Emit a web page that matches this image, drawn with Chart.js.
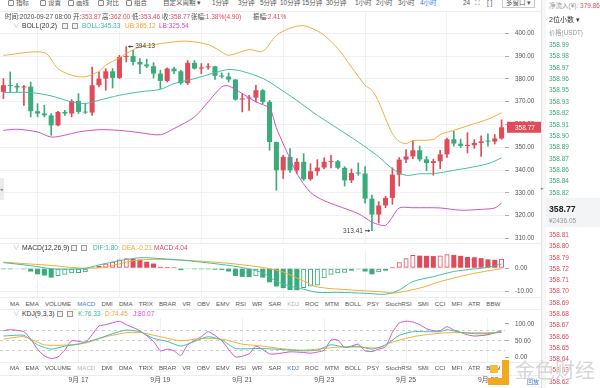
<!DOCTYPE html>
<html>
<head>
<meta charset="utf-8">
<script src="https://cdn.jsdelivr.net/npm/chart.js@4.4.1/dist/chart.umd.min.js"></script>
<style>
  body { margin: 0; width: 600px; height: 388px; overflow: hidden; position: relative; background: #fff;
         font-family: "Liberation Sans", "Noto Sans CJK SC", sans-serif; color: #4a4a4a; }
  canvas { position: absolute; left: 0; }
  .t { position: absolute; white-space: nowrap; font-size: 6.5px; line-height: 8px; }
  .hl { position: absolute; left: 0; width: 541px; height: 1px; background: #ededed; }
  .ico { display: inline-block; width: 4px; height: 4px; border: 1px solid #888; border-radius: 1px; vertical-align: -1px; margin-right: 2px; }
  .box { position: absolute; width: 4px; height: 4px; border: 1px solid #9a9a9a; background: #f2f2f2; }
  .red { color: #e04b5a; } .teal { color: #36b99b; } .org { color: #f0a630; } .mag { color: #cf4ccb; }
  .blue { color: #3b7ddd; } .gray { color: #b0b0b0; }
  .tabs { position: absolute; left: 10px; display: flex; gap: 6.1px; font-size: 6.2px; line-height: 8px; color: #555; }
</style>
</head>
<body>

<!-- toolbar -->
<div class="t" style="left:0;top:-1px;width:541px;font-size:6.6px;color:#555">
  <span class="t" style="left:8px"><i class="ico"></i>指标</span>
  <span class="t" style="left:40px"><i class="ico"></i>设置</span>
  <span class="t" style="left:68px"><i class="ico"></i>画线</span>
  <span class="t" style="left:98px"><i class="ico"></i>对比</span>
  <span class="t" style="left:126px"><i class="ico"></i>组合</span>
  <span class="t" style="left:163px">自定义周期 ▾</span>
  <span class="t" style="left:212px">1分钟</span>
  <span class="t" style="left:238px">3分钟</span>
  <span class="t" style="left:260px">5分钟</span>
  <span class="t" style="left:280px">10分钟</span>
  <span class="t" style="left:302px">15分钟</span>
  <span class="t" style="left:326px">30分钟</span>
  <span class="t" style="left:355px">1小时</span>
  <span class="t" style="left:376px">2小时</span>
  <span class="t" style="left:398px">3小时</span>
  <span class="t blue" style="left:420px">4小时</span>
  <span class="t" style="left:463px">24</span>
  <span class="t" style="left:475px">⛶</span>
  <span class="t" style="left:487px">[ ]</span>
  <span class="t" style="left:502px;top:-1px;border:1px solid #ccc;padding:0 3px;height:8px">多窗口 ▾</span>
</div>
<div class="hl" style="top:11px"></div>

<canvas id="main" width="541" height="232" style="top:12px"></canvas>
<canvas id="macd" width="541" height="47" style="top:250px"></canvas>
<canvas id="kdj" width="541" height="80" style="top:318px"></canvas>

<!-- info line -->
<div class="t" style="left:5px;top:12.5px">时间:2020-09-27 08:00</div>
<div class="t" style="left:73px;top:12.5px">开:<span class="red">353.87</span></div>
<div class="t" style="left:102px;top:12.5px">高:<span class="red">362.00</span></div>
<div class="t" style="left:132px;top:12.5px">低:<span class="red">353.46</span></div>
<div class="t" style="left:162px;top:12.5px">收:<span class="red">358.77</span></div>
<div class="t" style="left:191px;top:12.5px">张幅:<span class="red">1.38%(4.90)</span></div>
<div class="t" style="left:253px;top:12.5px">振幅:<span class="red">2.41%</span></div>

<!-- BOLL legend -->
<div class="t gray" style="left:13px;top:22px">∨</div>
<div class="t" style="left:22px;top:22px;font-size:6.8px;color:#333">BOLL(20,2)</div>
<div class="box" style="left:62px;top:23px"></div>
<div class="box" style="left:72px;top:23px"></div>
<div class="t teal" style="left:82px;top:22px">BOLL:345.33</div>
<div class="t org" style="left:125px;top:22px">UB:365.12</div>
<div class="t mag" style="left:159px;top:22px">LB:325.54</div>

<div class="hl" style="top:243px"></div>

<!-- MACD legend -->
<div class="t gray" style="left:13px;top:244px">∨</div>
<div class="t" style="left:22px;top:244px;font-size:6.8px;color:#333">MACD(12,26,9)</div>
<div class="box" style="left:71px;top:245px"></div>
<div class="box" style="left:81px;top:245px"></div>
<div class="t teal" style="left:93px;top:244px">DIF:1.80</div>
<div class="t org" style="left:122px;top:244px">DEA:-0.21</div>
<div class="t red" style="left:154px;top:244px">MACD:4.04</div>

<div class="hl" style="top:297px"></div>
<div class="tabs" id="tabs1" style="top:300px"></div>
<div class="hl" style="top:309px"></div>

<!-- KDJ legend -->
<div class="t gray" style="left:13px;top:310px">∨</div>
<div class="t" style="left:22px;top:310px;font-size:6.8px;color:#333">KDJ(9,3,3)</div>
<div class="box" style="left:57px;top:311px"></div>
<div class="box" style="left:67px;top:311px"></div>
<div class="t teal" style="left:78px;top:310px">K:76.33</div>
<div class="t org" style="left:105px;top:310px">D:74.45</div>
<div class="t mag" style="left:133px;top:310px">J:80.07</div>

<div class="hl" style="top:362px"></div>
<div class="tabs" id="tabs2" style="top:364px"></div>
<div class="hl" style="top:375px"></div>

<!-- left handle -->
<div style="position:absolute;left:0;top:178px;width:4px;height:22px;background:#ececec"></div>
<div class="t" style="left:0;top:185px;font-size:5px;color:#777">◂</div>

<!-- right panel -->
<div style="position:absolute;left:541px;top:0;width:1px;height:388px;background:#e2e2e2"></div>
<div style="position:absolute;left:542px;top:0;width:4px;height:388px;background:#f7f7f7"></div>
<div class="t" style="left:541px;top:184px;font-size:5px;color:#888">▸</div>
<div class="t" style="left:549px;top:2px;color:#999">净流入(¥): <span class="red">379.86</span></div>
<div class="t" style="left:549px;top:16px;font-size:7px;color:#333">2位小数 ▾</div>
<div class="t" style="left:549px;top:29px;font-size:6.3px;color:#999">价格(USDT)</div>
<div id="asks"></div>
<div style="position:absolute;left:546px;top:198px;width:54px;height:29px;background:#f3f4f6"></div>
<div class="t" style="left:549px;top:204px;font-size:8.7px;line-height:10px;font-weight:bold;color:#222">358.77</div>
<div class="t" style="left:549px;top:216.5px;color:#999">¥2436.05</div>
<div id="bids"></div>

<!-- watermark -->
<div class="t blue" style="left:527px;top:378px;font-size:6px">回放</div>
<div style="position:absolute;left:490px;top:365px;width:8px;height:8px;background:#f6bd3a;border-radius:1px"></div>
<div style="position:absolute;left:502px;top:360px;width:7px;height:25px;background:#f2a81f"></div>
<div style="position:absolute;left:488px;top:378px;width:21px;height:7px;background:#f2a81f"></div>
<div class="t" style="left:515px;top:359px;font-size:20px;line-height:24px;color:rgba(210,210,210,0.9);text-shadow:0 0 1px #fff">金色财经</div>

<script>
// 4h candles, 2020-09-15 04:00 .. 2020-09-27 08:00
var open_values = [374.3, 377.2, 376.9, 376.2, 376.6, 365.8, 364.8, 364.0, 359.6, 365.5,
  364.8, 370.3, 365.5, 365.2, 377.2, 380.1, 383.3, 380.4, 389.6, 390.0,
  387.4, 386.3, 385.5, 382.3, 379.1, 384.5, 383.3, 378.1, 387.0, 384.5,
  385.0, 385.5, 381.3, 381.0, 379.7, 370.9, 371.4, 371.8, 375.0, 369.9,
  352.3, 339.9, 345.8, 339.9, 343.6, 336.0, 339.5, 341.1, 343.6, 343.9,
  341.0, 335.5, 338.7, 338.5, 327.5, 320.5, 324.5, 327.8, 338.0, 344.6,
  346.0, 348.7, 344.7, 343.1, 343.9, 346.9, 353.5, 351.6, 350.6, 350.9,
  351.9, 352.6, 352.5, 353.87];
var high_values = [380.1, 383.0, 377.9, 377.2, 378.6, 369.1, 368.4, 364.8, 365.8, 366.2,
  370.9, 373.5, 369.1, 385.2, 383.0, 384.5, 384.5, 390.3, 394.13, 392.5,
  388.9, 388.6, 387.1, 383.8, 384.8, 385.1, 383.8, 388.0, 388.0, 386.7,
  386.7, 385.5, 382.6, 382.6, 379.7, 373.5, 372.8, 377.2, 375.3, 370.6,
  352.3, 346.5, 349.4, 345.0, 347.2, 342.8, 344.6, 345.4, 346.5, 344.3,
  341.5, 340.5, 343.1, 341.5, 329.0, 326.2, 328.5, 341.0, 345.5, 349.0,
  353.0, 350.5, 346.0, 344.8, 348.7, 354.0, 357.0, 353.6, 356.4, 353.4,
  355.0, 355.9, 355.6, 362.00];
var low_values = [371.3, 374.3, 374.3, 368.4, 363.3, 363.3, 363.3, 355.3, 359.4, 364.0,
  363.3, 364.8, 364.8, 364.0, 376.5, 375.0, 376.0, 380.1, 387.4, 386.0,
  382.3, 384.8, 380.4, 375.7, 378.6, 382.3, 377.5, 377.5, 384.2, 382.3,
  384.2, 379.8, 380.4, 378.6, 370.6, 365.5, 366.2, 369.9, 369.1, 348.7,
  331.1, 336.3, 339.0, 338.5, 335.5, 335.5, 337.7, 340.5, 341.0, 340.5,
  333.0, 334.5, 337.7, 325.5, 313.41, 316.8, 323.5, 325.0, 333.0, 343.3,
  345.0, 344.0, 339.8, 337.7, 340.6, 345.5, 350.5, 349.8, 347.5, 349.5,
  346.0, 350.5, 351.4, 353.46];
var close_values = open_values.slice(1).concat([358.77]);

var day_ticks = [11, 23, 35, 47, 59, 71];
var day_labels = ['9月 17', '9月 19', '9月 21', '9月 23', '9月 25', '9月 27'];
var price_ticks = [310, 320, 330, 340, 350, 360, 370, 380, 390, 400];
var macd_ticks = [-10, 0];
var kdj_ticks = [0, 20, 50, 80, 100];
var kdj_labelled = [0, 50, 100];

// BOLL(20,2), read at candle indices
var boll_up_at = [0, 6, 8, 10, 12, 14, 15, 17, 18, 20, 22, 25, 27, 30, 32, 33, 36, 38, 40, 42, 44, 46, 47, 49, 51, 53, 54, 55, 56, 57, 58, 59, 60, 63, 64, 66, 68, 71, 73];
var boll_up = [390.3, 391.5, 384.5, 381.6, 380.9, 383.3, 386.0, 389.2, 391.1, 394.0, 395.0, 396.2, 396.5, 395.0, 391.8, 390.3, 392.8, 392.1, 399.0, 402.2, 403.3, 401.0, 399.1, 393.3, 385.2, 377.2, 375.0, 369.9, 362.6, 356.0, 352.6, 351.6, 352.9, 353.4, 355.6, 357.4, 359.4, 362.3, 365.12];
var boll_mid_at = [0, 4, 7, 10, 12, 14, 17, 20, 23, 25, 28, 31, 33, 35, 38, 40, 43, 46, 49, 52, 55, 57, 59, 61, 63, 66, 68, 71, 73];
var boll_mid = [374.0, 374.0, 372.5, 369.9, 369.2, 370.6, 372.8, 374.3, 375.4, 377.9, 380.1, 382.7, 384.1, 383.3, 380.2, 376.6, 370.5, 364.0, 358.2, 352.3, 345.8, 340.6, 337.7, 338.4, 338.4, 339.9, 340.9, 342.8, 345.33];
var boll_low_at = [0, 2, 5, 7, 9, 11, 14, 17, 20, 23, 25, 28, 30, 32, 33, 35, 37, 39, 40, 41, 42, 43, 45, 47, 49, 52, 54, 55, 56, 57, 58, 60, 64, 67, 70, 72, 73];
var boll_low = [357.4, 357.9, 356.7, 354.5, 355.3, 356.7, 357.7, 357.4, 356.4, 355.5, 358.2, 363.3, 369.9, 376.5, 376.9, 373.5, 369.9, 367.0, 358.5, 351.5, 345.0, 338.5, 330.2, 326.6, 324.3, 320.9, 317.2, 316.1, 315.8, 319.4, 323.4, 323.5, 323.4, 322.4, 322.8, 323.4, 325.54];

// MACD(12,26,9)
var macd_hist = [-0.3, -0.3, -0.2, -0.3, -1.4, -2.6, -3.1, -4.0, -3.3, -2.8,
  -2.1, -2.0, -1.7, 0.3, 1.1, 2.0, 2.8, 3.7, 4.3, 4.0,
  3.7, 2.8, 2.0, 0.6, 0.5, 0.4, -0.8, -0.2, -0.3, -0.3,
  -0.3, -0.6, -0.7, -1.4, -3.3, -3.7, -3.8, -3.4, -4.0, -6.0,
  -7.8, -8.5, -9.3, -9.4, -8.5, -7.8, -7.4, -4.3, -2.8, -2.1,
  -1.9, -1.1, -0.5, -1.4, -2.6, -1.7, -1.1, 0.6, 2.6, 4.3,
  5.7, 5.4, 5.3, 5.2, 5.4, 6.0, 5.7, 5.3, 4.8, 4.7,
  4.3, 3.8, 3.6, 4.04];
var macd_dif_at = [0, 4, 7, 9, 12, 14, 17, 20, 22, 26, 29, 32, 35, 38, 40, 42, 44, 46, 49, 53, 56, 58, 60, 63, 66, 69, 71, 73];
var macd_dif = [2.4, 1.1, -0.2, -0.4, 0.0, 1.4, 3.2, 4.5, 4.3, 3.5, 2.6, 1.6, 0.3, -2.0, -5.6, -7.6, -9.0, -10.3, -10.3, -10.7, -11.1, -9.3, -5.7, -3.6, -1.4, -0.3, 0.4, 1.80];
var macd_dea_at = [0, 4, 7, 9, 12, 15, 19, 22, 26, 30, 34, 38, 41, 44, 46, 51, 56, 57, 61, 64, 68, 71, 73];
var macd_dea = [2.6, 1.8, 1.2, 0.6, 0.0, 0.6, 3.2, 3.8, 3.5, 2.8, 1.8, 0.3, -1.6, -5.5, -8.0, -9.3, -10.2, -10.7, -8.5, -5.7, -2.8, -1.1, -0.21];

// KDJ(9,3,3)
var kdj_k_at = [0, 3, 5, 7, 9, 11, 14, 16, 18, 20, 22, 24, 26, 28, 30, 32, 34, 37, 39, 42, 44, 46, 48, 50, 52, 54, 56, 58, 60, 62, 64, 65, 67, 69, 71, 73];
var kdj_k = [64, 66, 38, 25, 34, 40, 57, 71, 82, 77, 57, 48, 34, 48, 62, 52, 27, 27, 26, 22, 20, 22, 38, 31, 34, 25, 38, 66, 77, 77, 77, 83, 75, 71, 71, 76.33];
var kdj_d_at = [0, 3, 6, 9, 12, 15, 18, 20, 23, 26, 29, 32, 35, 38, 41, 44, 46, 49, 52, 55, 57, 60, 62, 65, 68, 71, 73];
var kdj_d = [55, 62, 38, 37, 43, 62, 74, 75, 62, 50, 57, 55, 40, 34, 26, 22, 25, 31, 31, 29, 46, 62, 68, 74, 74, 74, 74.45];
var kdj_j_at = [0, 1, 3, 4, 5, 6, 7, 8, 9, 10, 12, 13, 14, 15, 17, 18, 20, 22, 23, 24, 25, 26, 27, 29, 30, 32, 34, 36, 37, 39, 40, 42, 44, 45, 47, 48, 49, 50, 51, 52, 53, 54, 55, 56, 57, 58, 59, 60, 61, 62, 63, 64, 65, 66, 68, 69, 71, 73];
var kdj_j = [80, 83, 77, 55, 25, 5, -3, 2, 22, 50, 46, 68, 94, 98, 108, 98, 80, 48, 20, 25, 20, 6, 38, 62, 77, 50, 2, 11, 34, 11, 11, 17, 15, 13, 22, 52, 52, 30, 34, 40, 20, 18, 25, 32, 75, 103, 108, 106, 98, 86, 80, 80, 92, 82, 68, 64, 68, 80.07];

// order book on the right
var ask_prices = ['358.99', '358.98', '358.97', '358.96', '358.95', '358.93', '358.92', '358.91', '358.90', '358.89', '358.87', '358.86', '358.84', '358.82'];
var bid_prices = ['358.81', '358.80', '358.79', '358.72', '358.71', '358.70', '358.69', '358.68', '358.67', '358.66', '358.65', '358.64', '358.63', '358.62'];

var indicator_tabs = ['MA', 'EMA', 'VOLUME', 'MACD', 'DMI', 'DMA', 'TRIX', 'BRAR', 'VR', 'OBV', 'EMV', 'RSI', 'WR', 'SAR', 'KDJ',
  'ROC', 'MTM', 'BOLL', 'PSY', 'StochRSI', 'SMI', 'CCI', 'MFI', 'ATR', 'BBW'];

var UP = '#e04b5a', DOWN = '#3aab7a';
var TEAL = '#41c0a3', ORANGE = '#f2ad3b', MAGENTA = '#d050cc';
var GRID = '#f1f1f1';
var FONT = '"Liberation Sans", "Noto Sans CJK SC", sans-serif';

var fill_tabs = function(id, active, muted) {
  var row = document.getElementById(id);
  indicator_tabs.forEach(function(name) {
    var s = document.createElement('span');
    s.textContent = name;
    if (name == active) s.style.color = '#3b7ddd';
    if (name == muted) s.style.color = '#b5b5b5';
    row.appendChild(s);
  });
};
fill_tabs('tabs1', 'MACD', 'KDJ');
fill_tabs('tabs2', 'KDJ', 'MACD');

var fill_book = function(id, prices, top, step, color) {
  var box = document.getElementById(id);
  for (var k = 0; k < prices.length; k++) {
    var d = document.createElement('div');
    d.className = 't';
    d.style.left = '549px';
    d.style.top = (top + k * step - 4) + 'px';
    d.style.color = color;
    d.textContent = prices[k];
    box.appendChild(d);
  }
};
fill_book('asks', ask_prices, 45, 11.36, '#3aa777');
fill_book('bids', bid_prices, 235, 11.28, '#d9485a');

var points = function(at, vals) {
  return at.map(function(x, k) { return {x: x, y: vals[k]}; });
};
var candle_idx = open_values.map(function(v, i) { return i; });

var candle_color = function(c) {
  var i = c.dataIndex;
  return close_values[i] >= open_values[i] ? UP : DOWN;
};

// note: chart.js doubles ticks.padding when it sizes the axis
var x_axis = function(show_labels) {
  return {
    type: 'linear', min: -0.5, max: 73.5, offset: false,
    grid: { color: GRID, drawTicks: false },
    border: { display: false },
    afterBuildTicks: function(s) { s.ticks = day_ticks.map(function(v) { return {value: v}; }); },
    ticks: {
      display: show_labels, padding: 14, color: '#555', maxRotation: 0, autoSkip: false,
      font: { size: 6.8, family: FONT },
      callback: function(v, i) { return day_labels[i]; }
    }
  };
};

var y_axis = function(min, max, tick_values) {
  return {
    position: 'right', min: min, max: max,
    afterBuildTicks: function(s) { s.ticks = tick_values.map(function(v) { return {value: v}; }); },
    afterFit: function(s) { s.width = 36; s.paddingTop = 0; s.paddingBottom = 0; },
    grid: { color: GRID, tickColor: '#aaa', tickLength: 4 },
    border: { display: false },
    ticks: {
      padding: 6, color: '#555', font: { size: 6.3, family: FONT },
      callback: function(v) { return v.toFixed(2); }
    }
  };
};

var line = function(data, color) {
  return { type: 'line', data: data, borderColor: color, borderWidth: 1, pointRadius: 0, tension: 0.3, order: 0 };
};

var base_options = {
  responsive: false, animation: false, events: [],
  layout: { padding: 0 },
  plugins: { legend: { display: false }, tooltip: { enabled: false } }
};

// high / low labels and last price tag
var marker_plugin = {
  id: 'markers',
  afterDraw: function(chart) {
    var ctx = chart.ctx, xs = chart.scales.x, ys = chart.scales.y;
    var hi = high_values.indexOf(Math.max.apply(null, high_values));
    var lo = low_values.indexOf(Math.min.apply(null, low_values));
    ctx.save();
    ctx.font = '6.5px ' + FONT;
    ctx.textBaseline = 'middle';
    ctx.fillStyle = '#444';
    ctx.strokeStyle = '#444';
    ctx.lineWidth = 1;

    var x = xs.getPixelForValue(hi), y = ys.getPixelForValue(high_values[hi]);
    ctx.beginPath(); ctx.moveTo(x + 2, y); ctx.lineTo(x + 7, y); ctx.stroke();
    ctx.beginPath(); ctx.moveTo(x + 2, y); ctx.lineTo(x + 4, y - 1.5); ctx.lineTo(x + 4, y + 1.5); ctx.fill();
    ctx.textAlign = 'left';
    ctx.fillText(high_values[hi].toFixed(2), x + 9, y);

    x = xs.getPixelForValue(lo); y = ys.getPixelForValue(low_values[lo]);
    ctx.beginPath(); ctx.moveTo(x - 7, y); ctx.lineTo(x - 2, y); ctx.stroke();
    ctx.beginPath(); ctx.moveTo(x - 2, y); ctx.lineTo(x - 4, y - 1.5); ctx.lineTo(x - 4, y + 1.5); ctx.fill();
    ctx.textAlign = 'right';
    ctx.fillText(low_values[lo].toFixed(2), x - 9, y);

    var last = close_values[close_values.length - 1];
    var py = ys.getPixelForValue(last);
    var left = chart.chartArea.right + 2;
    ctx.fillStyle = UP;
    ctx.fillRect(left, py - 5.5, chart.width - left, 11);
    ctx.fillStyle = '#fff';
    ctx.textAlign = 'left';
    ctx.fillText(last.toFixed(2), left + 8, py + 0.5);
    ctx.restore();
  }
};

Chart.defaults.font.family = FONT;

new Chart('main', {
  type: 'bar',
  data: {
    datasets: [
      line(points(boll_up_at, boll_up), ORANGE),
      line(points(boll_mid_at, boll_mid), TEAL),
      line(points(boll_low_at, boll_low), MAGENTA),
      {
        data: candle_idx.map(function(i) { return {x: i, y: [open_values[i], close_values[i]]}; }),
        backgroundColor: candle_color, barPercentage: 0.74, categoryPercentage: 1,
        grouped: false, minBarLength: 1, order: 1
      },
      {
        data: candle_idx.map(function(i) { return {x: i, y: [low_values[i], high_values[i]]}; }),
        backgroundColor: candle_color, barThickness: 1, grouped: false, order: 2
      }
    ]
  },
  options: Object.assign({}, base_options, {
    scales: { x: x_axis(false), y: y_axis(307.6, 409.3, price_ticks) }
  }),
  plugins: [marker_plugin]
});

var macd_hollow = function(i) { return i > 0 && macd_hist[i] > macd_hist[i - 1]; };

new Chart('macd', {
  type: 'bar',
  data: {
    datasets: [
      line(points(macd_dif_at, macd_dif), TEAL),
      line(points(macd_dea_at, macd_dea), ORANGE),
      {
        data: candle_idx.map(function(i) { return {x: i, y: macd_hist[i]}; }),
        backgroundColor: function(c) {
          var i = c.dataIndex;
          if (macd_hollow(i)) return 'rgba(255,255,255,0)';
          return macd_hist[i] >= 0 ? UP : DOWN;
        },
        borderColor: function(c) { return macd_hist[c.dataIndex] >= 0 ? UP : DOWN; },
        borderWidth: function(c) { return macd_hollow(c.dataIndex) ? 1 : 0; },
        borderSkipped: false,
        barPercentage: 0.74, categoryPercentage: 1, grouped: false, minBarLength: 1, order: 1
      }
    ]
  },
  options: Object.assign({}, base_options, {
    scales: { x: x_axis(false), y: y_axis(-12.3, 7.8, macd_ticks) }
  })
});

var kdj_y = y_axis(-12.8, 117.8, kdj_ticks);
kdj_y.grid = {
  color: function(c) { return c.tick.value == 20 || c.tick.value == 50 || c.tick.value == 80 ? '#cdcdcd' : 'rgba(0,0,0,0)'; },
  tickColor: function(c) { return kdj_labelled.indexOf(c.tick.value) >= 0 ? '#aaa' : 'rgba(0,0,0,0)'; },
  tickLength: 4
};
kdj_y.border = { display: false, dash: [3, 3] };
kdj_y.ticks.callback = function(v) { return kdj_labelled.indexOf(v) >= 0 ? v.toFixed(2) : ''; };

var kdj_line = function(data, color) {
  var l = line(data, color);
  l.tension = 0.2;
  return l;
};

new Chart('kdj', {
  type: 'line',
  data: {
    datasets: [
      kdj_line(points(kdj_k_at, kdj_k), TEAL),
      kdj_line(points(kdj_d_at, kdj_d), ORANGE),
      kdj_line(points(kdj_j_at, kdj_j), MAGENTA)
    ]
  },
  options: Object.assign({}, base_options, {
    scales: { x: x_axis(true), y: kdj_y }
  })
});
</script>
</body>
</html>
